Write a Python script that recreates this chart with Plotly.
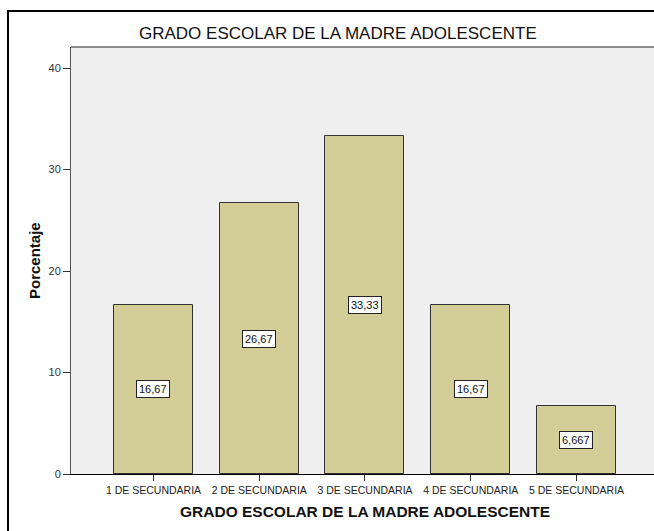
import plotly.graph_objects as go

categories = ["1 DE SECUNDARIA", "2 DE SECUNDARIA", "3 DE SECUNDARIA", "4 DE SECUNDARIA", "5 DE SECUNDARIA"]
values = [16.67, 26.67, 33.33, 16.67, 6.667]
value_labels = ["16,67", "26,67", "33,33", "16,67", "6,667"]
y_ticks = [0, 10, 20, 30, 40]

FONT = "Arial, Liberation Sans, sans-serif"
W, H = 654, 531
L, T, R, B = 71, 47, 0, 57
pw, ph = W - L - R, H - T - B

fig = go.Figure()
fig.add_trace(go.Bar(
    x=list(range(len(categories))), y=values,
    width=0.747,
    marker=dict(color="#d3ce97", line=dict(color="#333333", width=1)),
    hoverinfo="skip",
))

for i, (v, lab) in enumerate(zip(values, value_labels)):
    fig.add_annotation(
        x=i, y=v / 2, text=lab, showarrow=False,
        font=dict(family=FONT, size=11, color="#111111"),
        bgcolor="white", bordercolor="#222222", borderwidth=1, borderpad=2,
    )

def px_x(px):
    return (px - L) / pw

def px_y(py):
    return (H - B - py) / ph

# outer frame
fig.add_shape(type="rect", xref="paper", yref="paper",
              x0=px_x(8), x1=px_x(700), y0=px_y(600), y1=px_y(11),
              line=dict(color="black", width=2), fillcolor="rgba(0,0,0,0)", layer="above")
# top border of plot area
fig.add_shape(type="line", xref="paper", yref="paper",
              x0=0, x1=1, y0=1, y1=1,
              line=dict(color="#8a8a8a", width=2))

fig.add_annotation(
    xref="paper", yref="paper", x=px_x(338), y=px_y(34),
    text="GRADO ESCOLAR DE LA MADRE ADOLESCENTE", showarrow=False,
    font=dict(family=FONT, size=17, color="#111111"), xanchor="center", yanchor="middle",
)
fig.add_annotation(
    xref="paper", yref="paper", x=px_x(365), y=px_y(511),
    text="<b>GRADO ESCOLAR DE LA MADRE ADOLESCENTE</b>", showarrow=False,
    font=dict(family=FONT, size=15.5, color="#111111"), xanchor="center", yanchor="middle",
)
fig.add_annotation(
    xref="paper", yref="paper", x=px_x(34), y=px_y(261),
    text="<b>Porcentaje</b>", showarrow=False, textangle=-90,
    font=dict(family=FONT, size=15, color="#111111"), xanchor="center", yanchor="middle",
)

fig.update_layout(
    width=W, height=H,
    margin=dict(l=L, r=R, t=T, b=B, pad=0),
    paper_bgcolor="white", plot_bgcolor="#efefef",
    showlegend=False,
    bargap=0,
    xaxis=dict(
        tickmode="array", tickvals=list(range(len(categories))), ticktext=categories,
        range=[-0.78, 4.733],
        showgrid=False, zeroline=False,
        showline=True, linecolor="black", linewidth=1,
        ticks="outside", ticklen=6, tickcolor="#333333",
        tickfont=dict(family=FONT, size=10.5, color="#222222"),
    ),
    yaxis=dict(
        tickvals=y_ticks, range=[0, 42.07],
        showgrid=False, zeroline=False,
        showline=True, linecolor="#555555", linewidth=1,
        ticks="outside", ticklen=7, tickcolor="#333333",
        tickfont=dict(family=FONT, size=11, color="#333333"),
    ),
)

fig.write_html("out.html", config={"displayModeBar": False},
               post_script="document.body.style.margin='0';document.body.style.overflow='hidden';")
